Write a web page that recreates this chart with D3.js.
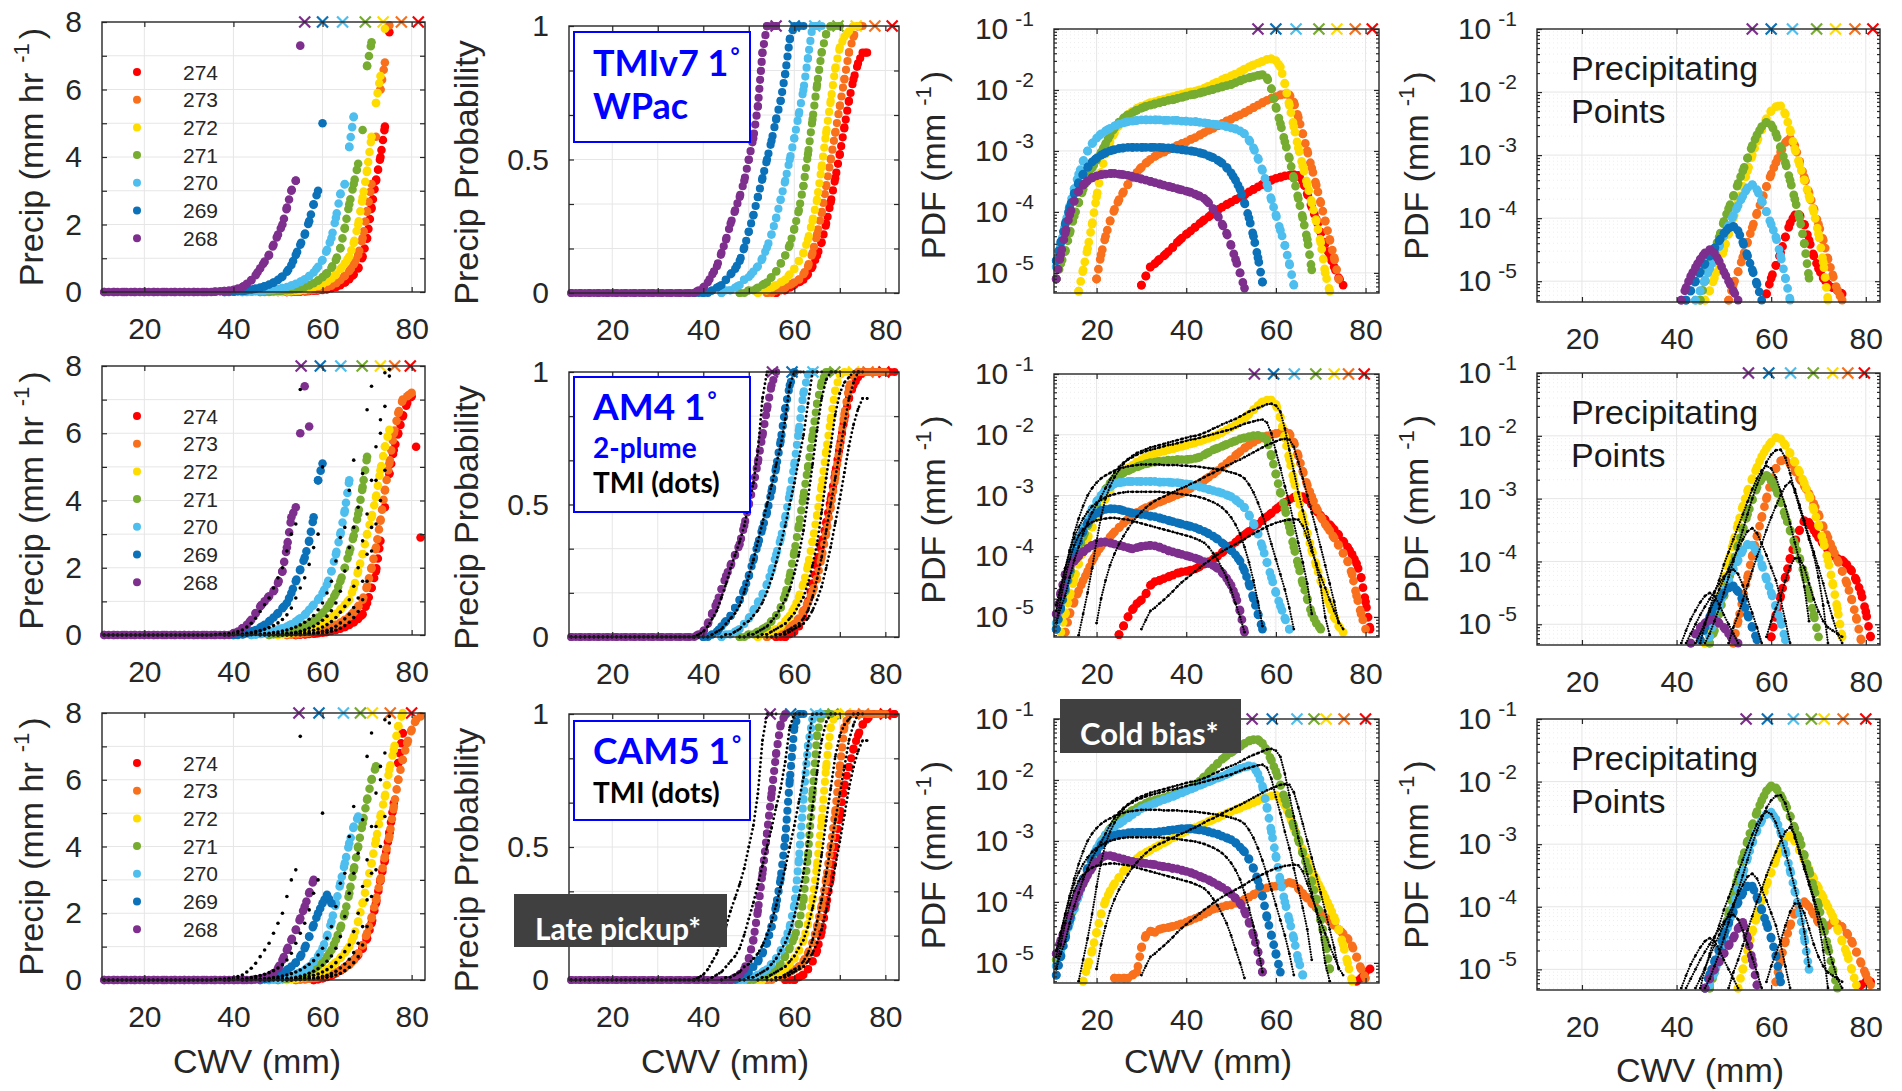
<!DOCTYPE html>
<html>
<head>
<meta charset="utf-8">
<title>Precipitation vs column water vapour by column temperature</title>
<script src="https://cdnjs.cloudflare.com/ajax/libs/d3/7.8.5/d3.min.js"></script>
<style>
  html, body { margin: 0; padding: 0; background: #ffffff; }
  svg { display: block; }
</style>
</head>
<body>
<svg id="fig" width="1902" height="1091"></svg>
<script>
// ---------------------------------------------------------------------------
// Temperature bins (K), plotted in this order, and their colours
// ---------------------------------------------------------------------------
const temps = [274, 273, 272, 271, 270, 269, 268];
const tempColors = ["#ff0000", "#f9701c", "#ffdc00", "#76ac2f", "#4dbeee", "#0b71b9", "#7e2f8e"];

// tick values
const cwvTicks = [20, 40, 60, 80];
const precipTicks = [0, 2, 4, 6, 8];
const probTicks = [0, 0.5, 1];
const pdfTickExp = [-5, -4, -3, -2, -1];

// critical CWV (mm) per temperature bin, marked with crosses on the top axis
const critTMI = [81.5, 77.7, 73.6, 69.6, 64.5, 60, 56];
const critAM4 = [79.7, 76.2, 73, 68.9, 64.1, 59.5, 55.2];
const critCAM5 = [80, 75.2, 71.2, 68.5, 64.7, 59.2, 54.7];

// All series below use 1-mm CWV bins; *Start gives the CWV of the first bin.
// Series order follows `temps`.

// ---- TMIv7 WPac: conditional mean precipitation (mm/hr) ----
const tmiPrecipStart = [52, 50, 48, 46, 42, 38, 10];
const tmiPrecip = [
  [0,0,0.01,0.01,0.02,0.03,0.04,0.05,0.06,0.08,0.11,0.15,0.2,0.28,0.38,0.52,0.7,1.05,1.6,2.5,3.3,4.0,4.9,7.7],
  [0,0,0.01,0.01,0.02,0.03,0.04,0.05,0.06,0.08,0.11,0.14,0.19,0.26,0.36,0.48,0.62,0.82,1.1,1.6,2.4,3.2,4.6,6.0,6.8,7.9],
  [0,0,0.01,0.01,0.02,0.03,0.04,0.05,0.07,0.1,0.14,0.18,0.24,0.31,0.4,0.52,0.68,0.85,1.05,1.45,2.0,2.8,3.6,4.6,5.6,6.4,7.8],
  [0,0,0.01,0.02,0.03,0.04,0.05,0.06,0.08,0.11,0.15,0.2,0.26,0.34,0.44,0.56,0.72,0.95,1.3,1.9,2.6,3.2,3.8,4.8,6.7,7.4],
  [0,0,0.01,0.02,0.03,0.04,0.05,0.07,0.09,0.12,0.15,0.19,0.24,0.3,0.38,0.47,0.58,0.75,0.95,1.25,1.6,2.2,2.9,3.2,4.3,5.2],
  [0,0,0.01,0.02,0.03,0.05,0.07,0.1,0.13,0.17,0.22,0.28,0.36,0.46,0.6,0.8,1.1,1.4,1.7,2.1,2.6,3.0,5.0],
  [0,0,0,0,0,0,0,0,0,0, 0,0,0,0,0,0,0,0,0,0, 0,0,0,0,0,0,
   0.01,0.02,0.03,0.04,0.06,0.1,0.15,0.24,0.35,0.5,0.7,0.9,1.1,1.4,1.7,2.0,2.5,3.0,3.3,7.3]
];

// ---- AM4 2-plume: conditional mean precipitation (mm/hr) ----
const am4PrecipStart = [54, 52, 50, 48, 44, 40, 10];
const am4Precip = [
  [0,0.01,0.02,0.03,0.04,0.05,0.07,0.09,0.12,0.15,0.19,0.24,0.3,0.38,0.48,0.62,0.95,1.4,1.9,2.8,3.8,4.8,5.5,6.0,6.5,6.9,7.1,5.6,2.9],
  [0,0.01,0.02,0.03,0.05,0.07,0.09,0.12,0.15,0.19,0.24,0.3,0.37,0.45,0.55,0.68,0.85,1.05,1.45,2.0,2.6,3.4,4.3,5.1,6.0,6.6,7.0,7.1,7.2],
  [0,0.02,0.04,0.06,0.08,0.1,0.13,0.17,0.22,0.28,0.35,0.43,0.52,0.63,0.76,0.9,1.05,1.4,1.9,2.4,3.0,3.5,4.1,4.9,5.6,6.1],
  [0,0.02,0.04,0.06,0.08,0.11,0.15,0.2,0.26,0.33,0.42,0.52,0.65,0.8,1.0,1.25,1.6,2.0,2.45,2.95,3.6,4.4,5.3],
  [0,0.01,0.03,0.05,0.08,0.12,0.16,0.2,0.25,0.32,0.4,0.5,0.6,0.75,0.9,1.05,1.25,1.5,1.9,2.4,3.0,3.7,4.6],
  [0,0,0.02,0.05,0.1,0.15,0.22,0.3,0.4,0.52,0.65,0.8,0.95,1.25,1.6,1.95,2.3,2.8,3.5,4.6,5.1],
  [0,0,0,0,0,0,0,0,0,0, 0,0,0,0,0,0,0,0,0,0, 0,0,0,0,0,0,0,0,0,0,
   0.05,0.1,0.2,0.3,0.45,0.65,0.85,1.0,1.15,1.3,1.55,1.9,2.6,3.5,3.8,6.0,7.4,6.2]
];

// ---- CAM5: conditional mean precipitation (mm/hr) ----
const cam5PrecipStart = [58, 54, 52, 50, 48, 46, 10];
const cam5Precip = [
  [0,0.02,0.05,0.09,0.14,0.2,0.28,0.38,0.48,0.6,0.75,0.95,1.25,1.7,2.3,3.0,3.6,4.4,5.3,6.5,7.4],
  [0,0.01,0.02,0.04,0.06,0.08,0.11,0.14,0.18,0.23,0.29,0.36,0.45,0.6,0.8,1.05,1.4,1.85,2.4,3.0,3.7,4.3,5.2,6.0,6.6,7.1,7.5,7.8,7.9],
  [0,0.02,0.04,0.06,0.08,0.11,0.15,0.2,0.26,0.33,0.42,0.53,0.66,0.82,1.0,1.3,1.75,2.3,2.9,3.5,4.2,4.9,5.5,6.3,6.9,7.6,8.0],
  [0,0.02,0.04,0.07,0.1,0.14,0.19,0.25,0.33,0.43,0.55,0.7,0.9,1.2,1.55,2.0,2.6,3.3,4.0,4.7,5.4,6.0,6.4],
  [0,0.01,0.03,0.05,0.08,0.12,0.17,0.23,0.3,0.4,0.55,0.72,0.95,1.3,1.75,2.3,2.9,3.5,4.1,4.6,4.9],
  [0,0.02,0.05,0.1,0.15,0.22,0.3,0.4,0.52,0.7,0.95,1.3,1.65,2.0,2.3,2.55,2.3],
  [0,0,0,0,0,0,0,0,0,0, 0,0,0,0,0,0,0,0,0,0, 0,0,0,0,0,0,0,0,0,0, 0,0,0,0,0,
   0.02,0.04,0.07,0.12,0.2,0.35,0.6,0.9,1.2,1.5,1.85,2.2,2.6,3.0]
];

// ---- precipitation probability ----
const tmiProbStart = [56, 54, 52, 48, 44, 38, 10];
const tmiProb = [
  [0,0.01,0.01,0.02,0.03,0.04,0.05,0.07,0.1,0.14,0.19,0.26,0.34,0.43,0.52,0.62,0.72,0.8,0.86,0.9,0.9],
  [0,0,0.01,0.01,0.02,0.03,0.04,0.05,0.07,0.1,0.15,0.22,0.3,0.4,0.5,0.6,0.7,0.8,0.9,0.96,1,1],
  [0,0.01,0.01,0.02,0.03,0.04,0.05,0.07,0.09,0.12,0.15,0.2,0.27,0.35,0.47,0.6,0.72,0.84,0.92,0.96,0.98,1,1],
  [0,0,0.01,0.01,0.02,0.03,0.04,0.06,0.08,0.11,0.14,0.18,0.24,0.31,0.4,0.52,0.65,0.78,0.9,0.97,1,1,1],
  [0,0.01,0.01,0.02,0.03,0.05,0.06,0.08,0.1,0.13,0.17,0.22,0.28,0.35,0.42,0.5,0.58,0.67,0.76,0.88,1,1,1],
  [0,0,0,0,0.01,0.02,0.03,0.05,0.07,0.09,0.12,0.17,0.23,0.29,0.36,0.43,0.5,0.57,0.65,0.72,0.82,0.95,1,1,1],
  [0,0,0,0,0,0,0,0,0,0, 0,0,0,0,0,0,0,0,0,0, 0,0,0,0,0,0,0,0,0,
   0.01,0.02,0.04,0.07,0.1,0.15,0.2,0.26,0.31,0.36,0.42,0.5,0.58,0.7,0.9,1,1,1]
];
const am4ProbStart = [56, 54, 52, 48, 44, 40, 10];
const am4Prob = [
  [0,0,0,0.01,0.02,0.04,0.08,0.13,0.2,0.28,0.35,0.43,0.52,0.62,0.72,0.82,0.9,0.95,0.98,1,1,1,1,1,1,1,1],
  [0,0.01,0.01,0.02,0.03,0.04,0.05,0.07,0.1,0.13,0.17,0.22,0.3,0.39,0.49,0.6,0.72,0.84,0.94,0.99,1,1,1,1,1,1,1],
  [0,0.01,0.01,0.02,0.03,0.04,0.06,0.08,0.11,0.15,0.2,0.27,0.36,0.46,0.57,0.7,0.82,0.93,0.99,1,1],
  [0,0,0.01,0.01,0.02,0.03,0.04,0.06,0.08,0.11,0.16,0.23,0.32,0.42,0.53,0.64,0.76,0.88,0.96,1,1],
  [0,0.01,0.01,0.02,0.03,0.05,0.07,0.1,0.13,0.16,0.2,0.25,0.31,0.37,0.45,0.54,0.65,0.78,0.92,0.99,1],
  [0,0,0.01,0.02,0.04,0.06,0.08,0.11,0.14,0.18,0.23,0.29,0.35,0.41,0.47,0.55,0.64,0.74,0.86,0.95,1],
  [0,0,0,0,0,0,0,0,0,0, 0,0,0,0,0,0,0,0,0,0, 0,0,0,0,0,0,0,0,0,
   0.01,0.02,0.05,0.09,0.13,0.18,0.23,0.27,0.31,0.35,0.42,0.5,0.57,0.66,0.76,0.86,0.95,1]
];
const cam5ProbStart = [58, 54, 52, 50, 48, 46, 10];
const cam5Prob = [
  [0,0,0,0.01,0.02,0.04,0.07,0.11,0.18,0.28,0.38,0.5,0.62,0.73,0.8,0.87,0.92,0.96,0.98,1,1,1,1,1,1],
  [0,0,0.01,0.01,0.02,0.03,0.04,0.05,0.07,0.1,0.14,0.2,0.28,0.38,0.5,0.63,0.8,0.95,1,1,1,1,1,1,1,1,1],
  [0,0,0.01,0.01,0.02,0.03,0.04,0.06,0.08,0.11,0.15,0.21,0.3,0.43,0.6,0.8,0.95,1,1],
  [0,0,0.01,0.01,0.02,0.03,0.04,0.06,0.09,0.12,0.16,0.21,0.3,0.47,0.7,0.92,1,1,1],
  [0,0,0.01,0.01,0.02,0.03,0.04,0.06,0.08,0.11,0.15,0.2,0.28,0.45,0.68,0.88,0.98,1,1],
  [0,0,0.01,0.02,0.03,0.05,0.07,0.1,0.14,0.2,0.28,0.38,0.53,0.75,0.95,1,1],
  [0,0,0,0,0,0,0,0,0,0, 0,0,0,0,0,0,0,0,0,0, 0,0,0,0,0,0,0,0,0,0, 0,0,0,0,0,0,0,
   0.01,0.02,0.04,0.08,0.15,0.26,0.4,0.55,0.7,0.85,0.96,1]
];

// ---- PDF of CWV, all points (values are log10 of the PDF in mm^-1) ----
const tmiPdfStart = [30, 20, 16, 11, 10, 10, 11];
const tmiPdfLog10 = [
  [-5.2,-5.05,-4.9,-4.85,-4.78,-4.72,-4.65,-4.58,-4.5,-4.43,-4.37,-4.31,-4.25,-4.19,-4.13,-4.08,-4.02,-3.97,-3.92,-3.88,
   -3.84,-3.8,-3.76,-3.72,-3.67,-3.63,-3.59,-3.55,-3.51,-3.48,-3.45,-3.43,-3.41,-3.4,-3.39,-3.4,-3.5,-3.7,-3.92,-4.12,
   -4.33,-4.52,-4.72,-4.9,-5.08,-5.2],
  [-5.1,-4.7,-4.4,-4.15,-3.96,-3.8,-3.67,-3.55,-3.44,-3.35,-3.27,-3.2,-3.14,-3.09,-3.05,-3.02,-2.98,-2.95,-2.91,-2.88,
   -2.85,-2.81,-2.78,-2.74,-2.7,-2.66,-2.63,-2.59,-2.55,-2.51,-2.48,-2.44,-2.41,-2.37,-2.33,-2.29,-2.25,-2.21,-2.17,-2.14,
   -2.11,-2.08,-2.07,-2.08,-2.2,-2.45,-2.72,-3.0,-3.28,-3.56,-3.85,-4.15,-4.45,-4.75,-5.1],
  [-5.3,-4.95,-4.6,-4.2,-3.75,-3.35,-3.05,-2.85,-2.7,-2.58,-2.48,-2.4,-2.35,-2.3,-2.27,-2.24,-2.21,-2.19,-2.17,-2.15,
   -2.13,-2.11,-2.09,-2.07,-2.05,-2.03,-2.02,-2.0,-1.97,-1.94,-1.9,-1.87,-1.83,-1.8,-1.77,-1.74,-1.7,-1.66,-1.62,-1.59,
   -1.56,-1.53,-1.5,-1.49,-1.52,-1.62,-1.9,-2.25,-2.6,-2.95,-3.25,-3.55,-3.85,-4.15,-4.5,-5.0,-5.3],
  [-5.1,-4.85,-4.65,-4.35,-4.07,-3.85,-3.63,-3.45,-3.28,-3.15,-3.02,-2.88,-2.74,-2.62,-2.53,-2.46,-2.41,-2.37,-2.33,-2.3,
   -2.27,-2.25,-2.23,-2.21,-2.19,-2.17,-2.16,-2.14,-2.12,-2.1,-2.08,-2.07,-2.05,-2.03,-2.01,-1.99,-1.97,-1.95,-1.93,-1.91,
   -1.88,-1.85,-1.82,-1.8,-1.78,-1.76,-1.75,-1.8,-1.98,-2.28,-2.55,-2.85,-3.12,-3.45,-3.78,-4.1,-4.45,-4.95],
  [-5.3,-4.9,-4.55,-4.2,-3.9,-3.62,-3.38,-3.17,-3.0,-2.88,-2.79,-2.72,-2.67,-2.63,-2.59,-2.56,-2.54,-2.52,-2.51,-2.5,
   -2.49,-2.49,-2.49,-2.49,-2.49,-2.5,-2.5,-2.5,-2.5,-2.51,-2.51,-2.52,-2.52,-2.53,-2.54,-2.55,-2.56,-2.57,-2.58,-2.6,
   -2.62,-2.64,-2.67,-2.72,-2.82,-2.95,-3.12,-3.32,-3.55,-3.8,-4.05,-4.3,-4.55,-4.85,-5.2],
  [-5.15,-4.8,-4.5,-4.2,-3.93,-3.7,-3.52,-3.38,-3.27,-3.18,-3.12,-3.07,-3.03,-3.0,-2.98,-2.96,-2.95,-2.94,-2.94,-2.94,
   -2.94,-2.94,-2.94,-2.94,-2.94,-2.95,-2.95,-2.96,-2.97,-2.98,-2.99,-3.0,-3.01,-3.03,-3.05,-3.08,-3.11,-3.15,-3.2,-3.27,
   -3.36,-3.48,-3.63,-3.85,-4.1,-4.4,-4.75,-5.15],
  [-5.1,-4.7,-4.35,-4.05,-3.82,-3.66,-3.56,-3.49,-3.44,-3.41,-3.39,-3.38,-3.37,-3.37,-3.38,-3.39,-3.4,-3.42,-3.44,-3.46,
   -3.48,-3.5,-3.52,-3.54,-3.56,-3.58,-3.6,-3.62,-3.64,-3.66,-3.68,-3.71,-3.74,-3.78,-3.85,-3.95,-4.06,-4.2,-4.35,-4.55,
   -4.78,-5.0,-5.25]
];
const am4PdfStart = [25, 13, 12, 11, 11, 11, 10];
const am4PdfLog10 = [
  [-5.29,-5.15,-5.0,-4.88,-4.78,-4.72,-4.62,-4.48,-4.42,-4.4,-4.37,-4.34,-4.31,-4.28,-4.26,-4.25,-4.23,-4.21,-4.17,-4.13,
   -4.09,-4.05,-4.0,-3.94,-3.88,-3.83,-3.77,-3.71,-3.65,-3.59,-3.53,-3.47,-3.41,-3.35,-3.29,-3.23,-3.17,-3.12,-3.07,-3.03,
   -3.01,-3.02,-3.07,-3.15,-3.25,-3.33,-3.4,-3.48,-3.56,-3.65,-3.75,-3.85,-3.97,-4.12,-4.35,-4.75,-5.2],
  [-5.25,-4.95,-4.75,-4.57,-4.4,-4.25,-4.08,-3.95,-3.84,-3.76,-3.68,-3.6,-3.53,-3.46,-3.39,-3.33,-3.28,-3.24,-3.2,-3.17,
   -3.14,-3.11,-3.08,-3.05,-3.02,-2.99,-2.96,-2.92,-2.88,-2.84,-2.8,-2.75,-2.7,-2.65,-2.59,-2.53,-2.47,-2.41,-2.34,-2.28,
   -2.22,-2.17,-2.12,-2.08,-2.05,-2.02,-2.0,-1.98,-1.96,-1.95,-1.98,-2.12,-2.35,-2.6,-2.83,-3.02,-3.2,-3.35,-3.47,-3.58,
   -3.7,-3.82,-3.95,-4.08,-4.3,-4.65,-4.95,-5.2],
  [-5.25,-4.95,-4.65,-4.38,-4.12,-3.9,-3.7,-3.52,-3.36,-3.2,-3.05,-2.92,-2.8,-2.7,-2.62,-2.55,-2.5,-2.45,-2.41,-2.37,
   -2.34,-2.31,-2.29,-2.27,-2.25,-2.23,-2.21,-2.19,-2.17,-2.15,-2.13,-2.11,-2.08,-2.06,-2.03,-2.0,-1.96,-1.92,-1.88,-1.84,
   -1.79,-1.73,-1.66,-1.59,-1.52,-1.46,-1.43,-1.43,-1.5,-1.72,-2.05,-2.4,-2.75,-3.05,-3.35,-3.62,-3.9,-4.15,-4.4,-4.6,
   -4.8,-5.0,-5.15,-5.25],
  [-5.2,-4.85,-4.58,-4.3,-4.08,-3.87,-3.68,-3.5,-3.33,-3.17,-3.02,-2.9,-2.8,-2.72,-2.67,-2.63,-2.59,-2.56,-2.53,-2.5,
   -2.48,-2.46,-2.45,-2.44,-2.43,-2.42,-2.42,-2.41,-2.41,-2.41,-2.4,-2.39,-2.37,-2.33,-2.29,-2.25,-2.22,-2.19,-2.16,-2.13,
   -2.1,-2.07,-2.05,-2.03,-2.02,-2.01,-2.03,-2.09,-2.35,-2.65,-2.95,-3.22,-3.52,-3.85,-4.15,-4.45,-4.7,-4.95,-5.1,-5.2],
  [-5.1,-4.75,-4.45,-4.17,-3.92,-3.72,-3.55,-3.38,-3.22,-3.1,-3.0,-2.92,-2.86,-2.81,-2.79,-2.78,-2.77,-2.77,-2.77,-2.77,
   -2.77,-2.77,-2.77,-2.78,-2.78,-2.78,-2.79,-2.79,-2.8,-2.81,-2.82,-2.84,-2.86,-2.88,-2.9,-2.92,-2.94,-2.96,-2.99,-3.02,
   -3.07,-3.13,-3.2,-3.32,-3.46,-3.63,-3.85,-4.1,-4.35,-4.6,-4.82,-5.02,-5.2],
  [-5.2,-4.85,-4.52,-4.22,-3.97,-3.76,-3.59,-3.45,-3.35,-3.29,-3.25,-3.23,-3.22,-3.22,-3.23,-3.25,-3.27,-3.29,-3.3,-3.31,
   -3.32,-3.34,-3.35,-3.37,-3.39,-3.41,-3.43,-3.45,-3.47,-3.49,-3.51,-3.53,-3.56,-3.59,-3.63,-3.67,-3.72,-3.78,-3.84,-3.9,
   -3.98,-4.08,-4.24,-4.45,-4.7,-4.95,-5.2],
  [-5.25,-4.95,-4.6,-4.3,-4.18,-4.08,-4.0,-3.93,-3.87,-3.82,-3.79,-3.77,-3.77,-3.78,-3.8,-3.82,-3.84,-3.86,-3.88,-3.86,
   -3.84,-3.83,-3.82,-3.83,-3.85,-3.88,-3.91,-3.93,-3.95,-3.97,-3.99,-4.01,-4.03,-4.06,-4.09,-4.12,-4.15,-4.2,-4.27,-4.36,
   -4.48,-4.65,-4.9,-5.25]
];
const cam5PdfStart = [78, 24, 17, 10, 11, 11, 10];
const cam5PdfLog10 = [
  [-5.3,-5.25,-5.15,-5.1],
  [-5.25,-5.25,-5.25,-5.25,-5.2,-5.15,-4.75,-4.55,-4.48,-4.5,-4.45,-4.43,-4.42,-4.4,-4.38,-4.36,-4.33,-4.3,-4.27,-4.24,
   -4.2,-4.16,-4.12,-4.1,-4.08,-4.06,-4.05,-4.02,-3.99,-3.96,-3.92,-3.88,-3.84,-3.8,-3.77,-3.75,-3.74,-3.72,-3.7,-3.68,
   -3.7,-3.78,-3.86,-3.94,-4.02,-4.1,-4.18,-4.25,-4.32,-4.38,-4.45,-4.52,-4.6,-4.72,-4.9,-5.1,-5.25],
  [-5.3,-5.05,-4.8,-4.5,-4.2,-3.98,-3.82,-3.7,-3.6,-3.5,-3.42,-3.35,-3.29,-3.23,-3.19,-3.15,-3.11,-3.07,-3.03,-2.99,
   -2.95,-2.91,-2.87,-2.84,-2.81,-2.78,-2.75,-2.72,-2.68,-2.65,-2.62,-2.58,-2.55,-2.52,-2.49,-2.46,-2.43,-2.4,-2.37,-2.34,
   -2.31,-2.28,-2.26,-2.25,-2.3,-2.42,-2.58,-2.78,-2.98,-3.15,-3.32,-3.48,-3.63,-3.78,-3.93,-4.08,-4.25,-4.45,-4.7,-5.0,
   -5.3],
  [-5.2,-4.95,-4.72,-4.52,-4.3,-4.08,-3.88,-3.7,-3.52,-3.36,-3.18,-3.02,-2.9,-2.8,-2.72,-2.66,-2.6,-2.55,-2.5,-2.46,
   -2.42,-2.38,-2.35,-2.33,-2.31,-2.29,-2.27,-2.25,-2.22,-2.2,-2.17,-2.13,-2.08,-2.02,-1.95,-1.88,-1.8,-1.73,-1.66,-1.6,
   -1.55,-1.5,-1.45,-1.4,-1.36,-1.34,-1.34,-1.4,-1.52,-1.68,-1.86,-2.08,-2.32,-2.54,-2.76,-2.98,-3.2,-3.43,-3.67,-3.95,
   -4.3,-4.65,-5.1],
  [-5.05,-4.8,-4.57,-4.35,-4.12,-3.9,-3.68,-3.47,-3.28,-3.12,-3.0,-2.9,-2.82,-2.77,-2.72,-2.67,-2.62,-2.57,-2.52,-2.47,
   -2.44,-2.41,-2.38,-2.35,-2.32,-2.3,-2.27,-2.24,-2.21,-2.18,-2.15,-2.12,-2.09,-2.06,-2.03,-2.0,-1.97,-1.94,-1.91,-1.87,
   -1.84,-1.81,-1.79,-1.77,-1.78,-1.9,-2.1,-2.45,-2.85,-3.25,-3.65,-4.0,-4.3,-4.6,-4.95,-5.2],
  [-5.2,-4.9,-4.6,-4.3,-4.05,-3.82,-3.62,-3.45,-3.3,-3.17,-3.07,-2.99,-2.94,-2.91,-2.89,-2.88,-2.87,-2.86,-2.86,-2.86,
   -2.86,-2.86,-2.86,-2.85,-2.84,-2.83,-2.82,-2.81,-2.8,-2.8,-2.8,-2.81,-2.82,-2.83,-2.85,-2.87,-2.89,-2.92,-2.95,-2.98,
   -3.03,-3.1,-3.18,-3.3,-3.45,-3.65,-3.9,-4.25,-4.55,-4.85,-5.15],
  [-5.05,-4.85,-4.63,-4.43,-4.22,-4.02,-3.85,-3.7,-3.56,-3.44,-3.35,-3.28,-3.24,-3.24,-3.26,-3.28,-3.3,-3.32,-3.34,-3.35,
   -3.36,-3.37,-3.38,-3.39,-3.41,-3.42,-3.43,-3.45,-3.46,-3.48,-3.5,-3.52,-3.55,-3.58,-3.61,-3.64,-3.68,-3.72,-3.76,-3.81,
   -3.87,-3.94,-4.02,-4.15,-4.33,-4.55,-4.82,-5.15]
];

// ---- PDF of CWV, precipitating points only (log10 of mm^-1) ----
const tmiRainPdfStart = [59, 51, 46, 45, 44, 42, 41];
const tmiRainPdfLog10 = [
  [-5.2,-4.95,-4.75,-4.55,-4.3,-4.08,-3.95,-3.95,-4.1,-4.35,-4.6,-4.8,-4.95,-5.05,-5.1,-5.15,-5.2],
  [-5.3,-5.05,-4.85,-4.62,-4.38,-4.15,-3.92,-3.72,-3.5,-3.3,-3.12,-2.95,-2.8,-2.73,-2.85,-3.1,-3.35,-3.6,-3.85,-4.1,
   -4.35,-4.65,-4.9,-5.15,-5.3],
  [-5.3,-5.15,-4.95,-4.75,-4.5,-4.25,-4.0,-3.75,-3.5,-3.25,-3.0,-2.78,-2.6,-2.42,-2.3,-2.23,-2.22,-2.35,-2.6,-2.9,
   -3.15,-3.4,-3.65,-3.9,-4.25,-4.7,-5.3],
  [-5.3,-5.0,-4.75,-4.5,-4.3,-4.05,-3.85,-3.65,-3.45,-3.25,-3.05,-2.85,-2.68,-2.55,-2.48,-2.52,-2.66,-2.88,-3.12,-3.4,
   -3.7,-4.0,-4.4,-4.95],
  [-5.3,-5.15,-4.98,-4.8,-4.62,-4.45,-4.28,-4.12,-3.96,-3.8,-3.65,-3.52,-3.47,-3.55,-3.72,-3.9,-4.1,-4.3,-4.6,-4.95,-5.3],
  [-5.3,-5.15,-5.0,-4.85,-4.72,-4.6,-4.48,-4.36,-4.24,-4.16,-4.13,-4.2,-4.38,-4.6,-4.82,-5.05,-5.3],
  [-5.3,-5.1,-4.92,-4.78,-4.65,-4.55,-4.5,-4.55,-4.68,-4.85,-5.0,-5.15,-5.3]
];
const am4RainPdfStart = [60, 52, 46, 47, 47, 45, 43];
const am4RainPdfLog10 = [
  [-5.2,-4.85,-4.55,-4.25,-3.95,-3.7,-3.5,-3.35,-3.38,-3.5,-3.62,-3.72,-3.82,-3.9,-3.95,-3.98,-4.05,-4.15,-4.3,-4.5,
   -4.8,-5.2],
  [-5.3,-4.95,-4.6,-4.25,-3.92,-3.6,-3.3,-3.0,-2.72,-2.52,-2.4,-2.38,-2.45,-2.55,-2.68,-2.8,-2.92,-3.08,-3.25,-3.45,
   -3.62,-3.8,-3.98,-4.15,-4.35,-4.6,-4.9,-5.25],
  [-5.3,-5.1,-4.85,-4.6,-4.3,-3.98,-3.7,-3.4,-3.12,-2.88,-2.68,-2.5,-2.33,-2.2,-2.1,-2.03,-2.05,-2.15,-2.28,-2.42,
   -2.58,-2.75,-2.95,-3.18,-3.42,-3.68,-3.98,-4.35,-4.75,-5.2],
  [-5.3,-5.1,-4.82,-4.55,-4.3,-4.02,-3.75,-3.5,-3.25,-3.02,-2.82,-2.68,-2.63,-2.7,-2.85,-3.05,-3.28,-3.5,-3.72,-3.95,
   -4.2,-4.5,-4.85,-5.2],
  [-5.2,-4.9,-4.7,-4.5,-4.3,-4.12,-3.98,-3.82,-3.73,-3.74,-3.85,-4.05,-4.28,-4.5,-4.72,-4.95,-5.25],
  [-5.25,-5.05,-4.88,-4.72,-4.6,-4.5,-4.42,-4.39,-4.48,-4.62,-4.85,-5.05,-5.25],
  [-5.3,-5.15,-5.05,-4.98,-4.93,-4.92,-4.98,-5.05,-5.15,-5.25,-5.3]
];
const cam5RainPdfStart = [79, 61, 53, 47, 47, 46, 46];
const cam5RainPdfLog10 = [
  [-5.25,-5.2,-5.2],
  [-5.2,-4.85,-4.55,-4.3,-4.1,-3.95,-3.92,-4.0,-4.12,-4.25,-4.33,-4.3,-4.25,-4.27,-4.32,-4.42,-4.55,-4.72,-4.9,-5.08,
   -5.25],
  [-5.3,-5.0,-4.7,-4.4,-4.15,-3.9,-3.65,-3.45,-3.25,-3.05,-2.9,-2.86,-2.95,-3.1,-3.25,-3.4,-3.55,-3.7,-3.85,-4.0,
   -4.15,-4.35,-4.55,-4.75,-5.0,-5.25],
  [-5.3,-5.05,-4.8,-4.45,-4.12,-3.8,-3.5,-3.22,-2.95,-2.7,-2.48,-2.3,-2.15,-2.07,-2.1,-2.22,-2.36,-2.55,-2.75,-2.92,
   -3.18,-3.42,-3.7,-3.98,-4.3,-4.65,-5.0,-5.3],
  [-5.25,-5.05,-4.8,-4.55,-4.28,-4.0,-3.72,-3.48,-3.22,-2.98,-2.78,-2.62,-2.52,-2.49,-2.6,-2.8,-3.1,-3.42,-3.75,-4.1,
   -4.5,-5.0],
  [-5.3,-5.08,-4.88,-4.68,-4.45,-4.26,-4.08,-3.93,-3.78,-3.67,-3.67,-3.85,-4.05,-4.27,-4.5,-4.78,-5.2],
  [-5.3,-5.15,-5.0,-4.88,-4.75,-4.62,-4.5,-4.35,-4.25,-4.5,-4.85,-5.25]
];

// ---------------------------------------------------------------------------
// Drawing
// ---------------------------------------------------------------------------
const svg = d3.select("#fig");
const FONT = "'Liberation Sans', Arial, Helvetica, sans-serif";
const BOLD_FONT = "Lato, 'Open Sans', 'Liberation Sans', sans-serif";
const INK = "#262626";
const GRID = "#e6e6e6";
const xDomain = [10.5, 83];
const pdfDomain = [Math.pow(10, -5.33), 0.1];

// panel frames: left / right per column, top / bottom per row and column
const colLeft = [102, 569, 1054, 1537];
const colRight = [425, 899, 1379, 1880];
const rowTop = [[22, 26, 29, 29], [366, 372, 374, 373], [713, 714, 719, 719]];
const rowBottom = [[292, 293, 293, 302], [635, 637, 637, 645], [980, 980, 983, 990]];

// marker-trail styles: a dotted stroke (round zero-length dashes) joins the
// binned markers so each series reads as a dense string of dots; in the
// precipitation panels isolated high-rain bins stay unjoined (maxJump, mm/hr)
const trail = {
  precip: { width: 8.6, gap: 10, maxJump: 1.0 },
  prob:   { width: 8.2, gap: 9, maxJump: Infinity },
  pdf:    { width: 8.8, gap: 10, maxJump: Infinity }
};

svg.append("rect").attr("width", 1902).attr("height", 1091).attr("fill", "#ffffff");

function toSeries(starts, table) {
  return table.map((vals, k) => vals.map((v, i) => ({ cwv: starts[k] + i, v })));
}

// split a series into runs of neighbouring bins whose values differ by < maxJump
function runs(pts, maxJump) {
  const out = [];
  let cur = [];
  pts.forEach((p, i) => {
    if (i > 0 && Math.abs(p.v - pts[i - 1].v) >= maxJump) { out.push(cur); cur = []; }
    cur.push(p);
  });
  out.push(cur);
  return out.filter(r => r.length > 1);
}

let clipCount = 0;

function drawPanel(row, col, kind, model, overlay, crit) {
  const L = colLeft[col], R = colRight[col], T = rowTop[row][col], B = rowBottom[row][col];
  const x = d3.scaleLinear().domain(xDomain).range([L, R]);
  let y;
  if (kind === "precip") y = d3.scaleLinear().domain([0, 8]).range([B, T]);
  else if (kind === "prob") y = d3.scaleLinear().domain([0, 1]).range([B, T]);
  else y = d3.scaleLog().domain(pdfDomain).range([B, T]);
  const val = kind === "precip" || kind === "prob" ? (d => d.v) : (d => Math.pow(10, d.v));
  const [lo, hi] = y.domain();
  const inside = d => {
    const v = val(d);
    return d.cwv >= xDomain[0] && d.cwv <= xDomain[1] && v >= lo * 0.999 && v <= hi * 1.001;
  };

  const g = svg.append("g");

  // grid
  const grid = g.append("g").attr("stroke", GRID).attr("stroke-width", 1);
  const xGrid = kind === "prob" ? d3.range(20, 81, 10) : cwvTicks;
  xGrid.forEach(v => grid.append("line").attr("x1", x(v)).attr("x2", x(v)).attr("y1", T).attr("y2", B));
  let yGrid;
  if (kind === "precip") yGrid = d3.range(1, 8);
  else if (kind === "prob") yGrid = [1, 2, 3, 4, 5].map(k => k / 6);
  else yGrid = [1e-5, 1e-4, 1e-3, 1e-2];
  yGrid.forEach(v => grid.append("line").attr("x1", L).attr("x2", R).attr("y1", y(v)).attr("y2", y(v)));
  if (kind === "pdf") {
    const minor = g.append("g").attr("stroke", "#eeeeee").attr("stroke-dasharray", "1,3");
    [-6, -5, -4, -3, -2].forEach(e => d3.range(2, 10).forEach(m => {
      const v = m * Math.pow(10, e);
      if (v > lo && v < hi) minor.append("line").attr("x1", L).attr("x2", R).attr("y1", y(v)).attr("y2", y(v));
    }));
  }

  const clipId = "panelclip" + (clipCount++);
  svg.append("clipPath").attr("id", clipId).append("rect")
    .attr("x", L - 5).attr("y", T - 5).attr("width", R - L + 10).attr("height", B - T + 10);

  // critical CWV crosses on the top axis
  const cross = g.append("g").attr("stroke-width", 2.2).attr("fill", "none");
  crit.forEach((c, k) => {
    const cx = x(c), s = 5.5;
    cross.append("path").attr("stroke", tempColors[k])
      .attr("d", `M${cx - s},${T - s}L${cx + s},${T + s}M${cx - s},${T + s}L${cx + s},${T - s}`);
  });

  const line = d3.line().x(d => x(d.cwv)).y(d => y(val(d)));
  const st = trail[kind];

  // model / observed series in colour
  model.forEach((pts, k) => {
    const s = g.append("g");
    const shown = pts.filter(inside);
    runs(shown, st.maxJump).forEach(r => {
      s.append("path").datum(r).attr("d", line).attr("fill", "none")
        .attr("stroke", tempColors[k]).attr("stroke-width", st.width)
        .attr("stroke-linecap", "round").attr("stroke-dasharray", `0 ${st.gap}`)
        .attr("clip-path", `url(#${clipId})`);
    });
    s.selectAll("circle").data(shown).join("circle")
      .attr("cx", d => x(d.cwv)).attr("cy", d => y(val(d)))
      .attr("r", st.width / 2).attr("fill", tempColors[k]);
  });

  // TMI reference in black
  if (overlay) {
    overlay.forEach(pts => {
      const s = g.append("g");
      const shown = pts.filter(inside);
      if (kind !== "precip") {
        s.append("path").datum(shown).attr("d", line).attr("fill", "none")
          .attr("stroke", "#000").attr("stroke-linecap", "round")
          .attr("stroke-width", kind === "prob" ? 2.8 : 2.2)
          .attr("stroke-dasharray", kind === "prob" ? "0 4.5" : "0 2.6")
          .attr("clip-path", `url(#${clipId})`);
      }
      s.selectAll("circle").data(shown).join("circle")
        .attr("cx", d => x(d.cwv)).attr("cy", d => y(val(d)))
        .attr("r", kind === "precip" ? 1.8 : 1.4).attr("fill", "#000");
    });
  }

  // axes (inward ticks on all four sides)
  const xTickVals = kind === "prob" ? d3.range(20, 81, 10) : cwvTicks;
  g.append("g").attr("transform", `translate(0,${B})`)
    .call(d3.axisBottom(x).tickValues(xTickVals).tickSize(-5).tickPadding(26)
      .tickFormat(d => cwvTicks.includes(d) ? d : ""));
  g.append("g").attr("transform", `translate(0,${T})`)
    .call(d3.axisTop(x).tickValues(xTickVals).tickSize(-5).tickFormat(""));

  let yTickVals, yFmt;
  if (kind === "precip") { yTickVals = d3.range(0, 9); yFmt = d => precipTicks.includes(d) ? d : ""; }
  else if (kind === "prob") { yTickVals = [0, 1, 2, 3, 4, 5, 6].map(k => k / 6); yFmt = d => probTicks.includes(d) ? d : ""; }
  else { yTickVals = pdfTickExp.map(e => Math.pow(10, e)); yFmt = () => ""; }

  const gy = g.append("g").attr("transform", `translate(${L},0)`)
    .call(d3.axisLeft(y).tickValues(yTickVals).tickSize(-5).tickPadding(20).tickFormat(yFmt));
  g.append("g").attr("transform", `translate(${R},0)`)
    .call(d3.axisRight(y).tickValues(yTickVals).tickSize(-5).tickFormat(""));

  if (kind === "pdf") {
    const minorVals = [];
    [-6, -5, -4, -3, -2].forEach(e => d3.range(2, 10).forEach(m => {
      const v = m * Math.pow(10, e);
      if (v > lo && v < hi) minorVals.push(v);
    }));
    g.append("g").attr("transform", `translate(${L},0)`)
      .call(d3.axisLeft(y).tickValues(minorVals).tickSize(-3).tickFormat(""));
    g.append("g").attr("transform", `translate(${R},0)`)
      .call(d3.axisRight(y).tickValues(minorVals).tickSize(-3).tickFormat(""));
    gy.selectAll(".tick text").each(function (d) {
      const t = d3.select(this).text(null);
      t.append("tspan").text("10");
      t.append("tspan").attr("dx", 7).attr("dy", -13).attr("font-size", 21)
        .text(String(Math.round(Math.log10(d))));
    });
  }

  g.selectAll(".domain").remove();
  g.selectAll(".tick line").attr("stroke", INK).attr("stroke-width", 1.2);
  g.selectAll(".tick text").attr("font-family", FONT).attr("font-size", 30).attr("fill", INK);

  g.append("rect").attr("x", L).attr("y", T).attr("width", R - L).attr("height", B - T)
    .attr("fill", "none").attr("stroke", INK).attr("stroke-width", 1.4);
}

function legend(row) {
  const T = rowTop[row][0];
  const g = svg.append("g");
  temps.forEach((t, k) => {
    const cy = T + 50 + k * 27.7;
    g.append("circle").attr("cx", 137).attr("cy", cy).attr("r", 4).attr("fill", tempColors[k]);
    g.append("text").attr("x", 183).attr("y", cy + 7.5).attr("font-family", FONT)
      .attr("font-size", 21).attr("fill", INK).text(t);
  });
}

function yTitle(row, col) {
  const T = rowTop[row][col], B = rowBottom[row][col];
  const cy = (T + B) / 2 + [0, 13, 4, 0][col];
  const bx = [43, 478, 945, 1428][col];
  const t = svg.append("text").attr("transform", `translate(${bx},${cy}) rotate(-90)`)
    .attr("text-anchor", "middle").attr("font-family", FONT).attr("font-size", 34).attr("fill", INK);
  if (col === 0) {
    t.append("tspan").text("Precip (mm hr");
    t.append("tspan").attr("dx", 10).attr("dy", -14).attr("font-size", 22).text("-1");
    t.append("tspan").attr("dx", 4).attr("dy", 14).text(")");
  } else if (col === 1) {
    t.text("Precip Probability");
  } else {
    t.append("tspan").text("PDF (mm");
    t.append("tspan").attr("dx", 8).attr("dy", -14).attr("font-size", 22).text("-1");
    t.append("tspan").attr("dx", 4).attr("dy", 14).text(")");
  }
}

function rainLabel(row) {
  const T = rowTop[row][3];
  ["Precipitating", "Points"].forEach((s, i) => {
    svg.append("text").attr("x", 1571).attr("y", T + 51 + i * 43).attr("font-family", FONT)
      .attr("font-size", 34).attr("fill", "#1a1a1a").text(s);
  });
}

const tmiP = toSeries(tmiPrecipStart, tmiPrecip);
const tmiPr = toSeries(tmiProbStart, tmiProb);
const tmiPdf = toSeries(tmiPdfStart, tmiPdfLog10);
const tmiRain = toSeries(tmiRainPdfStart, tmiRainPdfLog10);

// row 1: TMIv7 observations
drawPanel(0, 0, "precip", tmiP, null, critTMI);
drawPanel(0, 1, "prob", tmiPr, null, critTMI);
drawPanel(0, 2, "pdf", tmiPdf, null, critTMI);
drawPanel(0, 3, "pdf", tmiRain, null, critTMI);

// row 2: AM4 with TMI in black
drawPanel(1, 0, "precip", toSeries(am4PrecipStart, am4Precip), tmiP, critAM4);
drawPanel(1, 1, "prob", toSeries(am4ProbStart, am4Prob), tmiPr, critAM4);
drawPanel(1, 2, "pdf", toSeries(am4PdfStart, am4PdfLog10), tmiPdf, critAM4);
drawPanel(1, 3, "pdf", toSeries(am4RainPdfStart, am4RainPdfLog10), tmiRain, critAM4);

// row 3: CAM5 with TMI in black
drawPanel(2, 0, "precip", toSeries(cam5PrecipStart, cam5Precip), tmiP, critCAM5);
drawPanel(2, 1, "prob", toSeries(cam5ProbStart, cam5Prob), tmiPr, critCAM5);
drawPanel(2, 2, "pdf", toSeries(cam5PdfStart, cam5PdfLog10), tmiPdf, critCAM5);
drawPanel(2, 3, "pdf", toSeries(cam5RainPdfStart, cam5RainPdfLog10), tmiRain, critCAM5);

[0, 1, 2].forEach(r => {
  legend(r);
  [0, 1, 2, 3].forEach(c => yTitle(r, c));
  rainLabel(r);
});

// x-axis titles under the bottom row
[[257, 1073], [725, 1073], [1208, 1073], [1700, 1082]].forEach(([cx, by]) => {
  svg.append("text").attr("x", cx).attr("y", by).attr("text-anchor", "middle")
    .attr("font-family", FONT).attr("font-size", 34).attr("fill", INK).text("CWV (mm)");
});

// data-source captions
function caption(x, y, w, h, lines) {
  const g = svg.append("g");
  g.append("rect").attr("x", x).attr("y", y).attr("width", w).attr("height", h)
    .attr("fill", "#ffffff").attr("stroke", "#0000ff").attr("stroke-width", 2);
  lines.forEach(l => {
    const t = g.append("text").attr("x", x + 19).attr("y", l.y).attr("font-family", BOLD_FONT)
      .attr("font-weight", 700).attr("font-size", l.size).attr("fill", l.color);
    t.append("tspan").text(l.text);
    if (l.deg) t.append("tspan").attr("font-size", 22).attr("dx", 2).attr("dy", -12).text("°");
  });
}
caption(574, 32, 176, 110, [
  { text: "TMIv7 1", deg: true, y: 76, size: 36, color: "#0000ff" },
  { text: "WPac", y: 119, size: 36, color: "#0000ff" }
]);
caption(574, 377, 176, 135, [
  { text: "AM4 1", deg: true, y: 420, size: 37, color: "#0000ff" },
  { text: "2-plume", y: 458, size: 28, color: "#0000ff" },
  { text: "TMI (dots)", y: 493, size: 28, color: "#000000" }
]);
caption(574, 721, 176, 99, [
  { text: "CAM5 1", deg: true, y: 764, size: 37, color: "#0000ff" },
  { text: "TMI (dots)", y: 803, size: 28, color: "#000000" }
]);

// highlighted notes
function note(x, y, w, h, text, tx, ty, size) {
  svg.append("rect").attr("x", x).attr("y", y).attr("width", w).attr("height", h).attr("fill", "#404040");
  svg.append("text").attr("x", tx).attr("y", ty).attr("font-family", BOLD_FONT).attr("font-weight", 700)
    .attr("font-size", size).attr("fill", "#ffffff").text(text);
}
note(514, 894, 213, 53, "Late pickup*", 535, 940, 30);
note(1060, 699, 181, 54, "Cold bias*", 1080, 745, 31);
</script>
</body>
</html>
